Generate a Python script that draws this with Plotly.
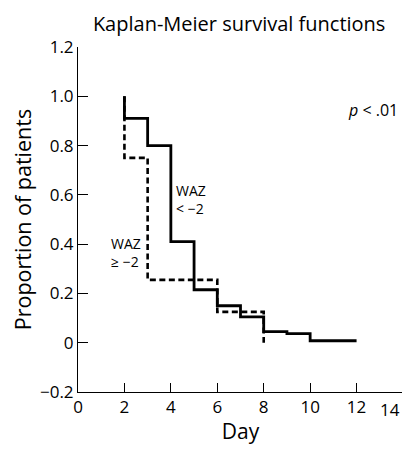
import plotly.graph_objects as go

# WAZ < -2 (solid)
solid_days = [2, 2, 3, 4, 5, 6, 7, 8, 9, 10, 12]
solid_surv = [1.0, 0.91, 0.80, 0.41, 0.215, 0.15, 0.105, 0.045, 0.037, 0.008, 0.008]
# WAZ >= -2 (dashed)
dashed_days = [2, 2, 3, 6, 8, 8]
dashed_surv = [1.0, 0.75, 0.255, 0.125, 0.125, 0.0]

x_ticks = [0, 2, 4, 6, 8, 10, 12, 14]
x_ticktext = ["0", "2", "4", "6", "8", "10", "12", ""]
x_edge_label = "14"   # last tick label, drawn as annotation so it is not clipped
y_ticks = [-0.2, 0, 0.2, 0.4, 0.6, 0.8, 1.0, 1.2]
y_ticktext = ["\u22120.2", "0", "0.2", "0.4", "0.6", "0.8", "1.0", "1.2"]

FONT = "Open Sans"

fig = go.Figure()
fig.add_trace(go.Scatter(x=dashed_days, y=dashed_surv, mode="lines", line_shape="hv",
                         line=dict(color="black", width=2.6, dash="6px,3.5px"), showlegend=False))
fig.add_trace(go.Scatter(x=solid_days, y=solid_surv, mode="lines", line_shape="hv",
                         line=dict(color="black", width=2.8), showlegend=False))

fig.add_annotation(x=4.15, y=0.58, text="WAZ<br>< \u22122", showarrow=False, xanchor="left",
                   yanchor="middle", align="left", font=dict(size=14, color="black", family=FONT))
fig.add_annotation(x=1.33, y=0.365, text="WAZ<br>\u2265 \u22122", showarrow=False, xanchor="left",
                   yanchor="middle", align="left", font=dict(size=14, color="black", family=FONT))
fig.add_annotation(x=13.85, y=0.945, text="<i>p</i> < .01", showarrow=False, xanchor="right",
                   font=dict(size=16, color="black", family=FONT))
fig.add_annotation(x=x_ticks[-1], xref="x", y=0, yref="paper", text=x_edge_label,
                   showarrow=False, xanchor="right", yanchor="middle", xshift=-1, yshift=-17,
                   font=dict(size=17, color="black", family=FONT))

# page body has an 8px margin, so the figure is offset by (8, 8)
fig.update_layout(
    width=402, height=437,
    margin=dict(l=70, r=7, t=39, b=53, autoexpand=False),
    paper_bgcolor="white", plot_bgcolor="white",
    font=dict(family=FONT, color="black", size=16),
    title=dict(text="Kaplan-Meier survival functions", x=0.575, xanchor="center",
               y=0.9635, yanchor="middle", font=dict(size=20, family=FONT, color="black")),
)
fig.update_xaxes(range=[0, 14], tickvals=x_ticks, ticktext=x_ticktext,
                 showgrid=False, zeroline=False, showline=True, linecolor="black", linewidth=1,
                 ticks="inside", ticklen=9, tickcolor="black", tickwidth=1,
                 automargin=False,
                 title=dict(text="Day", font=dict(size=21), standoff=11),
                 tickfont=dict(size=17))
fig.update_yaxes(range=[-0.2, 1.2], tickvals=y_ticks, ticktext=y_ticktext,
                 showgrid=False, zeroline=False, showline=True, linecolor="black", linewidth=1,
                 ticks="inside", ticklen=10, tickcolor="black", tickwidth=1,
                 automargin=False,
                 title=dict(text="Proportion of patients", font=dict(size=21.5), standoff=2),
                 tickfont=dict(size=17))

fig.write_html("out.html")
